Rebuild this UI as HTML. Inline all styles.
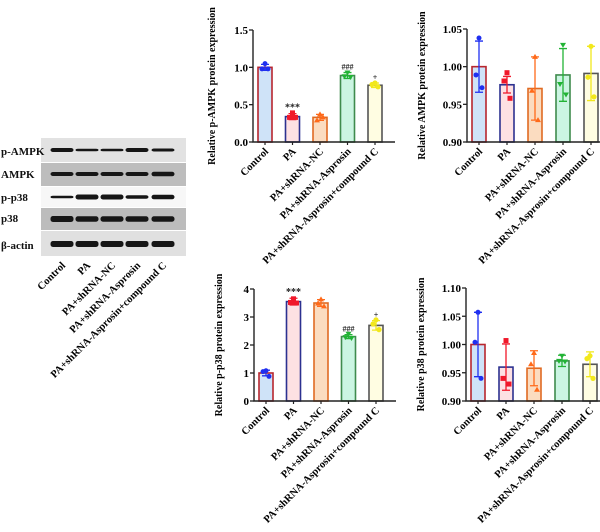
<!DOCTYPE html>
<html><head><meta charset="utf-8">
<style>
body{margin:0;background:#fff;}
svg{display:block;font-family:"Liberation Serif",serif;font-weight:bold;}
</style></head>
<body>
<svg id="fig" width="600" height="532" viewBox="0 0 600 532" xmlns="http://www.w3.org/2000/svg">
<g>
  <rect x="41" y="138" width="145" height="24" fill="#e2e2e2"/>
  <rect x="41" y="163" width="145" height="23" fill="#bdbdbd"/>
  <rect x="41" y="187" width="145" height="20" fill="#f7f7f7"/>
  <rect x="41" y="208" width="145" height="22" fill="#bcbcbc"/>
  <rect x="41" y="231" width="145" height="25" fill="#e0e0e0"/>
  <g id="bands"></g>
  <g font-size="11" fill="#111">
    <text x="1" y="155">p-AMPK</text>
    <text x="1" y="178">AMPK</text>
    <text x="1" y="201">p-p38</text>
    <text x="1" y="222">p38</text>
    <text x="1" y="249">β-actin</text>
  </g>
  <g id="blotx"></g>
</g>
<g id="charts"></g>
</svg>
<script>
const categories = ["Control","PA","PA+shRNA-NC","PA+shRNA-Asprosin","PA+shRNA-Asprosin+compound C"];
const pampkMeans = [1.0,0.34,0.33,0.89,0.76];
const pampkSd = [0.04,0.04,0.04,0.04,0.03];
const pampkPts = [[1.05,0.98,0.98],[0.39,0.33,0.33],[0.37,0.29,0.33],[0.93,0.88,0.87],[0.79,0.77,0.74]];
const ampkMeans = [1.0,0.976,0.971,0.989,0.991];
const ampkSd = [0.034,0.011,0.042,0.035,0.036];
const ampkPts = [[1.038,0.989,0.972],[0.992,0.981,0.958],[1.013,0.968,0.929],[1.029,0.977,0.963],[1.027,0.986,0.960]];
const pp38Means = [1.0,3.55,3.5,2.3,2.7];
const pp38Sd = [0.1,0.12,0.12,0.07,0.17];
const pp38Pts = [[1.08,1.05,0.88],[3.65,3.52,3.5],[3.63,3.48,3.38],[2.4,2.28,2.25],[2.9,2.75,2.55]];
const p38Means = [1.0,0.96,0.958,0.971,0.965];
const p38Sd = [0.057,0.041,0.031,0.01,0.022];
const p38Pts = [[1.057,1.004,0.94],[1.007,0.94,0.93],[0.985,0.965,0.92],[0.98,0.971,0.97],[0.98,0.975,0.94]];
const pampkTicks = [0,0.5,1.0,1.5];
const ampkTicks = [0.90,0.95,1.00,1.05];
const pp38Ticks = [0,1,2,3,4];
const p38Ticks = [0.90,0.95,1.00,1.05,1.10];
const pampkSig = ["","***","","###","+"];
const pp38Sig = ["","***","","###","+"];
const noSig = ["","","","",""];

const fills=["#cfe3f8","#fde1e3","#fbdcc0","#cbf5e2","#fffde2"];
const strokes=["#b8262e","#2c3190","#e06a22","#3f8b4d","#555555"];
const dots=["#1f2ff0","#f0182a","#ff6a1a","#22b335","#f2e81c"];
const NS="http://www.w3.org/2000/svg";
function mk(tag,attrs,parent){const e=document.createElementNS(NS,tag);for(const k in attrs)e.setAttribute(k,attrs[k]);parent.appendChild(e);return e;}

const bands=document.getElementById('bands');
const bandX=[62,87,112,137,163];
const rows=[[150,[4,2.5,2.5,4,3]],[174,[4,4,4,4,4.5]],[197,[2.5,5,5,3.5,4.5]],[219,[6,5.5,5.5,5.5,5.5]],[244,[6,6,6,6,6]]];
rows.forEach(r=>{r[1].forEach((h,i)=>{const b=mk('rect',{x:bandX[i]-11.5,y:r[0]-h/2,width:23,height:h,rx:2.5,fill:'#161616'},bands);

});});
const bx=document.getElementById('blotx');
categories.forEach((c,i)=>{const t=mk('text',{x:bandX[i]+4,y:266,'text-anchor':'end','font-size':'10.5',transform:`rotate(-45 ${bandX[i]+4} 266)`},bx);t.textContent=c;

});

function chart(o){
  const g=mk('g',{},document.getElementById('charts'));
  
  
  const y=v=>o.y0-(v-o.min)/(o.max-o.min)*(o.y0-o.y1);
  const cx=i=>o.ax+12+i*o.step;
  o.means.forEach((m,i)=>{const b=mk('rect',{x:cx(i)-7,y:y(m),width:14,height:o.y0-y(m),fill:fills[i],stroke:strokes[i],'stroke-width':1.6},g);
    
    
    const top=y(m+o.sd[i]), bot=y(Math.max(o.min,m-o.sd[i]));
    const e=mk('path',{d:`M${cx(i)} ${top}V${bot}M${cx(i)-4} ${top}H${cx(i)+4}M${cx(i)-4} ${bot}H${cx(i)+4}`,stroke:dots[i],'stroke-width':1.3,fill:'none'},g);
    
    
    o.pts[i].forEach((p,j)=>{const px=cx(i)+[0,-3,3][j];const py=y(p);let d;
      if(i==0) d=mk('circle',{cx:px,cy:py,r:2.5,fill:dots[i]},g);
      else if(i==1) d=mk('rect',{x:px-2.5,y:py-2.5,width:5,height:5,fill:dots[i]},g);
      else if(i==2) d=mk('path',{d:`M${px} ${py-3}L${px+3} ${py+2}L${px-3} ${py+2}Z`,fill:dots[i]},g);
      else if(i==3) d=mk('path',{d:`M${px} ${py+3}L${px+3} ${py-2}L${px-3} ${py-2}Z`,fill:dots[i]},g);
      else d=mk('circle',{cx:px,cy:py,r:2.6,fill:dots[i]},g);
      
      });
    if(o.sig[i]){const s=mk('text',{x:cx(i),y:top-3,'text-anchor':'middle','font-size':o.sig[i]=='***'?'10':'8',fill:'#222'},g);s.textContent=o.sig[i];
      
      }
  });
  const ax=mk('path',{d:`M${o.ax} ${o.y1}V${o.y0}H${o.ax+142}`,stroke:'#222','stroke-width':1.4,fill:'none'},g);
  
  
  o.ticks.forEach(t=>{mk('path',{d:`M${o.ax-4} ${y(t)}H${o.ax}`,stroke:'#222','stroke-width':1.3},g);
    const tx=mk('text',{x:o.ax-5,y:y(t)+4,'text-anchor':'end','font-size':'11'},g);tx.textContent=o.fmt(t);
    
    });
  categories.forEach((c,i)=>{mk('path',{d:`M${cx(i)} ${o.y0}V${o.y0+3}`,stroke:'#222','stroke-width':1.2},g);
    const X=cx(i)+4,Y=o.y0+10;
    const t=mk('text',{x:X,y:Y,'text-anchor':'end','font-size':'10.5',transform:`rotate(-45 ${X} ${Y})`},g);t.textContent=c;
    
    });
  const tX=o.ax-o.titleOff, tY=(o.y0+o.y1)/2;
  const tt=mk('text',{x:tX,y:tY,'text-anchor':'middle','font-size':'10',transform:`rotate(-90 ${tX} ${tY})`},g);tt.textContent=o.title;
  
  
}
chart({name:'chart-p-ampk',ax:253,y0:142,y1:30,min:0,max:1.5,step:27.5,means:pampkMeans,sd:pampkSd,pts:pampkPts,ticks:pampkTicks,sig:pampkSig,fmt:t=>t.toFixed(1),title:'Relative p-AMPK protein expression',titleOff:38});
chart({name:'chart-ampk',ax:467,y0:142,y1:29,min:0.9,max:1.05,step:28,means:ampkMeans,sd:ampkSd,pts:ampkPts,ticks:ampkTicks,sig:noSig,fmt:t=>t.toFixed(2),title:'Relative AMPK protein expression',titleOff:42});
chart({name:'chart-p-p38',ax:254,y0:401,y1:289,min:0,max:4,step:27.5,means:pp38Means,sd:pp38Sd,pts:pp38Pts,ticks:pp38Ticks,sig:pp38Sig,fmt:t=>String(t),title:'Relative p-p38 protein expression',titleOff:32});
chart({name:'chart-p38',ax:466,y0:401,y1:288,min:0.9,max:1.1,step:28,means:p38Means,sd:p38Sd,pts:p38Pts,ticks:p38Ticks,sig:noSig,fmt:t=>t.toFixed(2),title:'Relative p38 protein expression',titleOff:42});
</script>
</body></html>
